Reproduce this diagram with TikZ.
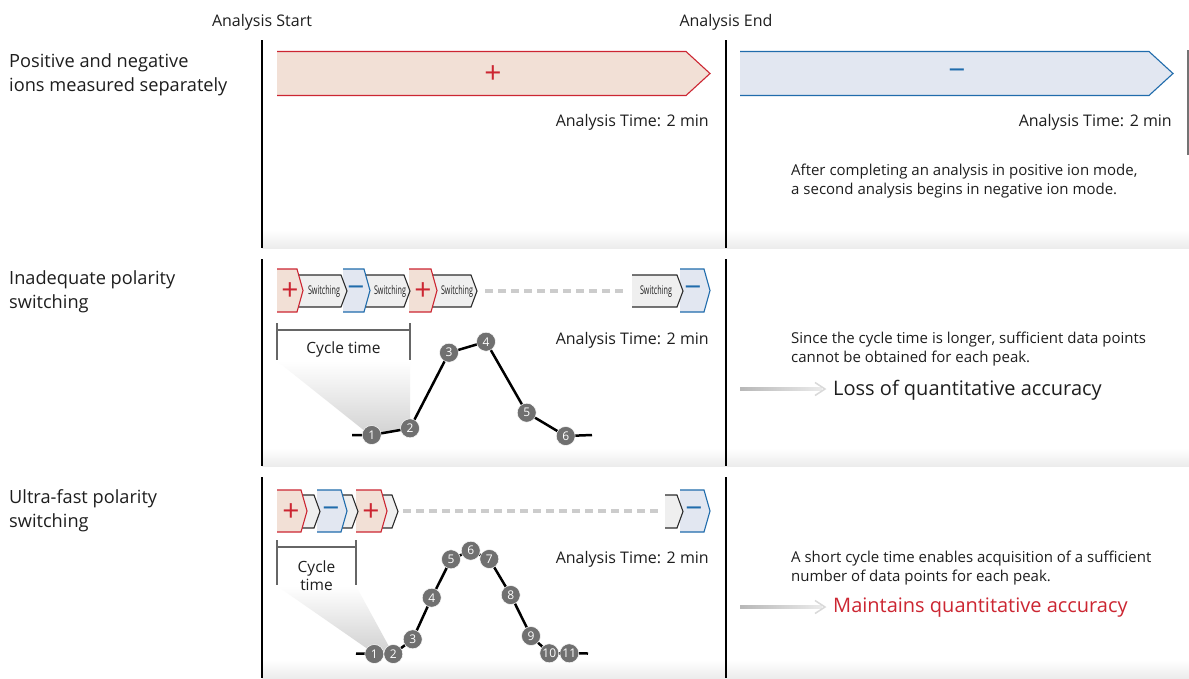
\documentclass[tikz,border=0pt]{standalone}
\usepackage{fontspec}
\usepackage{graphicx}
\setmainfont{Open Sans}
\usetikzlibrary{positioning}
\definecolor{posred}{RGB}{204,38,50}
\definecolor{pinkfill}{RGB}{242,224,214}
\definecolor{negblue}{RGB}{32,108,172}
\definecolor{bluefill}{RGB}{226,231,241}
\definecolor{swfill}{RGB}{239,239,239}
\definecolor{swline}{RGB}{45,45,45}
\definecolor{txtgray}{RGB}{30,30,30}
\definecolor{ptgray}{RGB}{112,112,112}
\definecolor{dashgray}{RGB}{204,204,204}
\definecolor{bandgray}{RGB}{236,236,236}
\tikzstyle{hdr}=[font=\fontsize{16}{19}\selectfont, text=txtgray]
\tikzstyle{rowlbl}=[anchor=west, align=left, font=\fontsize{18.2}{24}\selectfont, text=txtgray, inner sep=0pt]
\tikzstyle{atime}=[anchor=east, font=\fontsize{16}{19}\selectfont, text=txtgray, inner sep=0pt]
\tikzstyle{note}=[anchor=west, align=left, font=\fontsize{15}{19}\selectfont, text=txtgray, inner sep=0pt]
\tikzstyle{result}=[anchor=west, font=\fontsize{20}{22}\selectfont, inner sep=0pt]
\tikzstyle{sign}=[font=\fontsize{30}{30}\selectfont, inner sep=0pt]
\tikzstyle{swtxt}=[font=\fontsize{12}{12}\selectfont, text=txtgray, inner sep=0pt]
\tikzstyle{cyc}=[align=center, font=\fontsize{15.5}{18}\selectfont, text=txtgray, inner sep=0pt]
\tikzstyle{datapt}=[circle, fill=ptgray, draw=white, line width=0.5pt, inner sep=0pt, minimum size=19pt, text=white, font=\fontsize{12}{12}\selectfont]
\tikzstyle{chrom}=[line width=2.5pt, line join=round]
\tikzstyle{bracket}=[line width=1.8pt, black!60]
\tikzstyle{dashline}=[line width=4pt, dashgray, dash pattern=on 8pt off 5pt]
\tikzstyle{colline}=[line width=1.2pt, black]
\newcommand{\datapt}{\node[datapt]}
\newcommand{\swl}{\scalebox{0.6}[1]{Switching}}
% fill, line, left, apex, mid y, half height, tip
\newcommand{\chev}[7]{%
  \fill[#1] (#3,#5-#6) -- (#4-#7,#5-#6) -- (#4,#5) -- (#4-#7,#5+#6) -- (#3,#5+#6) -- cycle;
  \draw[#2, line width=1.1pt] (#3,#5-#6) -- (#4-#7,#5-#6) -- (#4,#5) -- (#4-#7,#5+#6) -- (#3,#5+#6);}

\begin{document}
\begin{tikzpicture}[x=1pt,y=-1pt]
\useasboundingbox[fill=white] (0,0) rectangle (1189,678);
% background bands and columns
\foreach \y in {248,466,678}{\shade[top color=white, bottom color=bandgray] (262,\y-18) rectangle (1189,\y);}
\foreach \a/\b in {40/248,259/466,477/678}{
	\draw[colline] (262,\a) -- (262,\b);
	\draw[colline] (726,\a) -- (726,\b);
	}
\draw[black!55, line width=1.2pt] (1188,50) -- (1188,155);
\node[hdr] (start) at (262,22) {Analysis Start};
\node[hdr] (end) at (726,22) {Analysis End};
\node[rowlbl] (lbl1) at (9,75) {Positive and negative\\ions measured separately};
\node[rowlbl] (lbl2) at (9,292) {Inadequate polarity\\switching};
\node[rowlbl] (lbl3) at (9,511) {Ultra-fast polarity\\switching};

%% row 1
\chev{pinkfill}{posred}{277}{710}{73.5}{22}{24}
\chev{bluefill}{negblue}{740}{1173}{73.5}{22}{24}
\node[sign, text=posred] (pos1) at (493,75) {+};
\node[sign, text=negblue] (neg1) at (957,75) {−};
\node[atime] (t1) at (709,122.5) {Analysis Time: 2 min};
\node[atime] (t1b) at (1172,122.5) {Analysis Time: 2 min};
\node[note] (n1) at (791,181) {After completing an analysis in positive ion mode,\\a second analysis begins in negative ion mode.};

%% row 2
\chev{bluefill}{negblue}{680}{710}{290.5}{21.5}{6}
\chev{swfill}{swline}{632}{683}{291}{16}{6}
\coordinate (d2a) at (485,291);
\coordinate (d2b) at (627,291);
\draw[dashline] (d2a) -- (d2b);
\chev{swfill}{swline}{430}{477}{291}{16}{6}
\chev{pinkfill}{posred}{409}{437}{290.5}{21.5}{6}
\chev{swfill}{swline}{365}{410}{291}{16}{6}
\chev{bluefill}{negblue}{343}{370}{290.5}{21.5}{6}
\chev{swfill}{swline}{296}{347}{291}{16}{6}
\chev{pinkfill}{posred}{277}{303}{290.5}{21.5}{6}
\node[sign, text=posred] (p2a) at (290,292) {+};
\node[sign, text=negblue] (m2a) at (356,292) {−};
\node[sign, text=posred] (p2b) at (423,292) {+};
\node[sign, text=negblue] (m2b) at (693,292) {−};
\node[swtxt] (s2a) at (324,291) {\swl};
\node[swtxt] (s2b) at (390,291) {\swl};
\node[swtxt] (s2c) at (457,291) {\swl};
\node[swtxt] (s2d) at (656,291) {\swl};
% cycle time
\shade[top color=white, bottom color=black!18] (277,361) -- (410,361) -- (410,428) -- (371,436) -- cycle;
\draw[bracket] (277,323) -- (277,360) (410,323) -- (410,360) (277,330) -- (410,330);
\node[cyc] (cyc2) at (343.5,349) {Cycle time};
% peak
\foreach \n/\x/\y in {0/352/435,1/371.7/435,2/410/428.3,3/449/352.7,4/486/341.7,5/526.7/412.7,6/565.7/436,7/592/435}
	\coordinate (b\n) at (\x,\y);
\draw[chrom] (b0) \foreach \n in {1,...,7}{ -- (b\n)};
\foreach \n in {1,...,6}{\datapt (pb\n) at (b\n) {\n};}
\node[atime] (t2) at (709,340.5) {Analysis Time: 2 min};
\node[note] (n2) at (791,349) {Since the cycle time is longer, sufficient data points\\cannot be obtained for each peak.};
\shade[left color=black!28, right color=black!8] (740,387.6) rectangle (822,390.6);
\draw[black!15, line width=1.5pt] (815,382.5) -- (825,389) -- (815,395.5);
\node[result, text=txtgray] (r2) at (833,390) {Loss of quantitative accuracy};

%% row 3
\chev{bluefill}{negblue}{680}{710}{511}{21}{6}
\chev{swfill}{swline}{665}{683}{511.5}{16.5}{6}
\coordinate (d3a) at (403,511);
\coordinate (d3b) at (660,511);
\draw[dashline] (d3a) -- (d3b);
\chev{swfill}{swline}{380}{398}{511.5}{16.5}{6}
\chev{pinkfill}{posred}{356}{387}{511}{21}{6}
\chev{swfill}{swline}{340}{358}{511.5}{16.5}{6}
\chev{bluefill}{negblue}{317}{347}{511}{21}{6}
\chev{swfill}{swline}{300}{320}{511.5}{16.5}{6}
\chev{pinkfill}{posred}{277}{307}{511}{21}{6}
\node[sign, text=posred] (p3a) at (291,513) {+};
\node[sign, text=negblue] (m3a) at (331,513) {−};
\node[sign, text=posred] (p3b) at (371,513) {+};
\node[sign, text=negblue] (m3b) at (694,513) {−};
% cycle time
\shade[top color=white, bottom color=black!18] (277,586) -- (356,586) -- (392,652) -- (372,652) -- cycle;
\draw[bracket] (277,540) -- (277,585) (356,540) -- (356,585) (277,547) -- (356,547);
\node[cyc] (cyc3) at (316.5,576) {Cycle\\time};
% peak
\foreach \n/\x/\y in {0/356/653.5,1/374.3/654,2/393.3/654,3/412.7/639.3,4/431.7/597.7,5/451/559.3,6/470.7/550.7,7/489.3/559,8/510.7/595,9/531/636,10/549.3/653.3,11/569.3/653.3,12/588/653.5}
	\coordinate (c\n) at (\x,\y);
\draw[chrom] (c0) \foreach \n in {1,...,12}{ -- (c\n)};
\foreach \n in {1,...,11}{\datapt (pc\n) at (c\n) {\n};}
\node[atime] (t3) at (709,559.5) {Analysis Time: 2 min};
\node[note] (n3) at (791,568) {A short cycle time enables acquisition of a sufficient\\number of data points for each peak.};
\shade[left color=black!28, right color=black!8] (740,605.6) rectangle (822,608.6);
\draw[black!15, line width=1.5pt] (815,600.5) -- (825,607) -- (815,613.5);
\node[result, text=posred] (r3) at (833,608) {Maintains quantitative accuracy};
\end{tikzpicture}
\end{document}
